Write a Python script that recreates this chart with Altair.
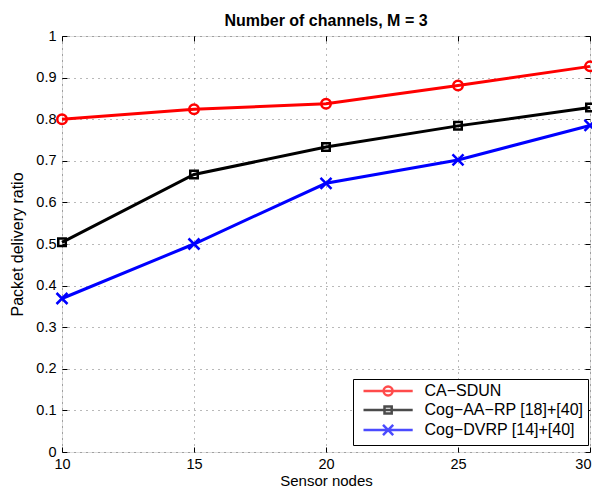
import altair as alt
import pandas as pd

# ---- data ----
sensor_nodes = [10, 15, 20, 25, 30]
series_names = ["CA\u2212SDUN", "Cog\u2212AA\u2212RP [18]+[40]", "Cog\u2212DVRP [14]+[40]"]
ca_sdun = [0.800, 0.824, 0.837, 0.881, 0.927]
cog_aa_rp = [0.504, 0.667, 0.733, 0.784, 0.828]
cog_dvrp = [0.369, 0.500, 0.646, 0.702, 0.785]
series_colors = ["#ff0000", "#000000", "#0000ff"]
x_ticks = [10, 15, 20, 25, 30]
y_ticks = [0, 0.1, 0.2, 0.3, 0.4, 0.5, 0.6, 0.7, 0.8, 0.9, 1]

# marker shapes (plot) and line+marker shapes (legend)
marker_paths = [
    "M0.95,0A0.95,0.95 0 1,1 -0.95,0A0.95,0.95 0 1,1 0.95,0Z",
    "M-0.75,-0.75H0.75V0.75H-0.75Z",
    "M-1.1,-1.1L1.1,1.1M-1.1,1.1L1.1,-1.1",
]
legend_paths = [
    "M-1,0H7.2M3.85,0A0.75,0.75 0 1,1 2.35,0A0.75,0.75 0 1,1 3.85,0Z",
    "M-1,0H7.2M2.5,-0.6H3.7V0.6H2.5Z",
    "M-1,0H7.2M2.25,-0.85L3.95,0.85M2.25,0.85L3.95,-0.85",
]

rows = []
for name, vals in zip(series_names, [ca_sdun, cog_aa_rp, cog_dvrp]):
    for xv, yv in zip(sensor_nodes, vals):
        rows.append({"nodes": xv, "ratio": yv, "series": name})
df = pd.DataFrame(rows)

FONT = "Liberation Sans"
xscale = alt.Scale(domain=[10, 30], nice=False, zero=False)
yscale = alt.Scale(domain=[0, 1], nice=False)
cscale = alt.Scale(domain=series_names, range=series_colors)

base = alt.Chart(df)

x_main_axis = alt.Axis(
    values=x_ticks, title="Sensor nodes", orient="bottom", offset=-5,
    tickSize=5, tickColor="black", domain=False, labelPadding=5,
    labelFont=FONT, labelFontSize=14.5, labelColor="black",
    labelAlign={"condition": {"test": "datum.value >= 30", "value": "right"}, "value": "center"},
    labelOffset={"condition": {"test": "datum.value >= 30", "value": 1}, "value": 0},
    titleFont=FONT, titleFontSize=15, titleFontWeight="normal", titleColor="black",
    titlePadding=3, grid=True, gridDash=[1, 5], gridColor="black", gridOpacity=0.55,
    labelFlush=False)
y_main_axis = alt.Axis(
    values=y_ticks, format="~g", title="Packet delivery ratio", orient="left", offset=-5,
    tickSize=5, tickColor="black", domain=False, labelPadding=6,
    labelFont=FONT, labelFontSize=14.5, labelColor="black",
    titleFont=FONT, titleFontSize=16, titleFontWeight="normal", titleColor="black",
    titlePadding=10, grid=True, gridDash=[1, 5], gridColor="black", gridOpacity=0.55,
    labelFlush=False)
x_top_axis = alt.Axis(values=x_ticks, orient="top", offset=-5, tickSize=5, tickColor="black",
                      domain=False, labels=False, title=None, grid=False)
y_right_axis = alt.Axis(values=y_ticks, orient="right", offset=-5, tickSize=5, tickColor="black",
                        domain=False, labels=False, title=None, grid=False)

layers = []
for i, (name, col, path) in enumerate(zip(series_names, series_colors, marker_paths)):
    sub = base.transform_filter(alt.datum.series == name)
    line = sub.mark_line(strokeWidth=3, color=col).encode(
        x=alt.X("nodes:Q", scale=xscale, axis=x_main_axis if i == 0 else None),
        y=alt.Y("ratio:Q", scale=yscale, axis=y_main_axis if i == 0 else None),
    )
    pts = sub.mark_point(filled=False, strokeWidth=2.5, size=100, opacity=1, shape=path, color=col).encode(
        x=alt.X("nodes:Q", scale=xscale, axis=x_top_axis if i == 0 else None),
        y=alt.Y("ratio:Q", scale=yscale, axis=y_right_axis if i == 0 else None),
    )
    layers += [line, pts]

legend_props = dict(
    orient="none", legendX=291, legendY=343, title=None,
    labelFont=FONT, labelFontSize=16, labelColor="black",
    labelExpr="datum.label + '\u00a0'",
    symbolSize=144, symbolStrokeWidth=2.5, labelOffset=47, symbolOffset=4.5,
    strokeColor="black", fillColor="white", padding=4, rowPadding=0,
)

legend_layer = base.mark_point(filled=False, size=0, strokeWidth=2.5).encode(
    x=alt.X("nodes:Q", scale=xscale, axis=None),
    y=alt.Y("ratio:Q", scale=yscale, axis=None),
    color=alt.Color("series:N", scale=cscale, legend=alt.Legend(**legend_props)),
    shape=alt.Shape("series:N", scale=alt.Scale(domain=series_names, range=legend_paths),
                    legend=alt.Legend(**legend_props)),
)

chart = alt.layer(*layers, legend_layer).resolve_axis(
    x="independent", y="independent"
).properties(
    width=528, height=416,
    title=alt.TitleParams("Number of channels, M = 3", font=FONT, fontSize=16,
                          fontWeight="bold", color="black", anchor="middle", offset=-1,
                          frame="group"),
    autosize=alt.AutoSizeParams(type="none"),
    padding={"left": 54, "top": 28, "right": 2, "bottom": 37},
).configure_view(stroke="black", strokeWidth=1).configure(background="white")

chart.save("out.html", embed_options={"renderer": "svg", "actions": False})
